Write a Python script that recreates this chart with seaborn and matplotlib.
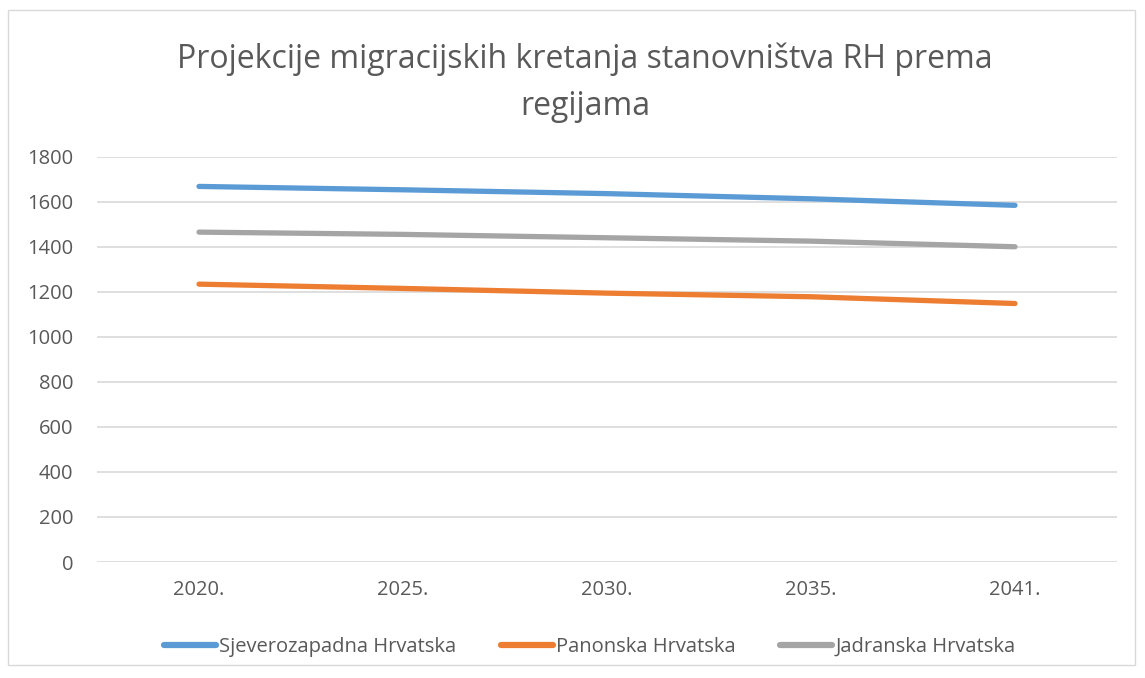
import matplotlib
matplotlib.use("Agg")
import matplotlib.pyplot as plt
import seaborn as sns
import pandas as pd
from matplotlib.patches import Rectangle

years = ["2020.", "2025.", "2030.", "2035.", "2041."]
sjeverozapadna = [1668, 1653, 1636, 1613, 1584]
panonska = [1234, 1215, 1194, 1178, 1148]
jadranska = [1465, 1455, 1440, 1425, 1400]
series_names = ["Sjeverozapadna Hrvatska", "Panonska Hrvatska", "Jadranska Hrvatska"]
colors = ["#5B9BD5", "#ED7D31", "#A5A5A5"]
title = "Projekcije migracijskih kretanja stanovništva RH prema\nregijama"

sns.set_theme(style="white")
plt.rcParams['font.family'] = ['Open Sans', 'DejaVu Sans']

df = pd.DataFrame({
    "year": years * 3,
    "value": sjeverozapadna + panonska + jadranska,
    "series": [series_names[0]] * 5 + [series_names[1]] * 5 + [series_names[2]] * 5,
})

fig = plt.figure(figsize=(11.45, 6.78), dpi=100)
ax = fig.add_axes([97 / 1145, 1 - 562 / 678, (1117 - 97) / 1145, (562 - 156.7) / 678])

sns.lineplot(data=df, x="year", y="value", hue="series", palette=colors,
             linewidth=3.8, ax=ax, sort=False, solid_capstyle="round")

ax.set_ylim(0, 1800)
ax.set_xlim(-0.5, 4.5)
ax.set_yticks(range(0, 1801, 200))
ax.yaxis.grid(True, color="#D9D9D9", linewidth=1.2)
ax.set_axisbelow(True)
for s in ax.spines.values():
    s.set_visible(False)
ax.set_xlabel("")
ax.set_ylabel("")
ax.tick_params(axis="both", labelsize=14.5, colors="#595959", length=0)
ax.tick_params(axis="x", pad=13)
ax.tick_params(axis="y", pad=17)

fig.text(585 / 1145, 1 - 83 / 678, title, ha="center", va="center",
         fontsize=23, color="#595959", linespacing=1.55)

leg = ax.legend(loc="center", bbox_to_anchor=(0.483, -0.21), ncol=3, frameon=False,
                fontsize=14.5, handlelength=2.6, columnspacing=2.2, handletextpad=0.15,
                labelcolor="#595959")
for line in leg.get_lines():
    line.set_linewidth(4.5)
    line.set_solid_capstyle("round")

fig.patches.append(Rectangle((8 / 1145, 1 - 665 / 678), (1135 - 8) / 1145, (665 - 10) / 678,
                             transform=fig.transFigure, fill=False, edgecolor="#D9D9D9",
                             linewidth=1))

fig.savefig("out.png", dpi=100)
